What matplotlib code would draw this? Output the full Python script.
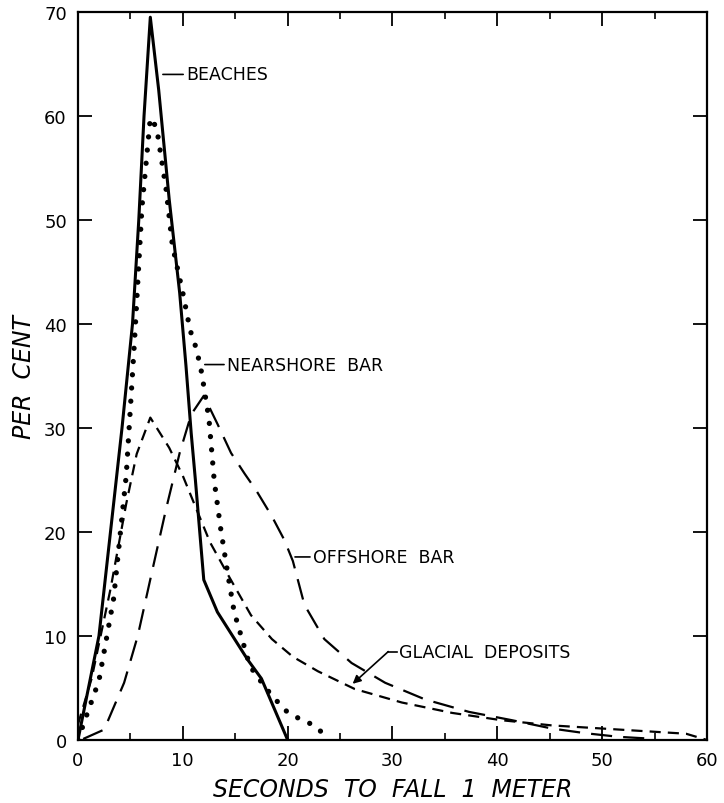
import matplotlib
matplotlib.use("Agg")
import matplotlib.pyplot as plt
from matplotlib.ticker import MultipleLocator

# ---- data ----
beaches_x = [0, 2.0, 3.1, 4.2, 5.2, 5.8, 6.3, 6.9, 7.7, 8.7, 9.7, 10.3, 10.8, 11.2, 12.0, 13.3, 16.2, 17.5, 20.0]
beaches_y = [0, 10, 20, 30, 40, 50, 60, 69.5, 62.5, 52, 43, 36, 29.5, 25, 15.4, 12.3, 7.7, 5.9, 0]

nearshore_x = [0, 0.8, 2.0, 3.4, 4.6, 5.4, 6.1, 6.9, 7.5, 8.4, 9.0, 10.0, 10.7, 11.3, 11.8, 12.5, 13.0,
               13.6, 14.3, 14.9, 16.4, 17.9, 19.7, 20.6, 22.1, 23.2, 24.0]
nearshore_y = [0, 2.3, 5.7, 13.6, 25.4, 38.5, 51.2, 59.8, 58.9, 53, 47.6, 43, 39.4, 37.6, 35.3, 30.8, 24.9,
               20.4, 15.9, 12.3, 7.1, 5.0, 2.9, 2.3, 1.6, 0.8, 0.3]

offshore_x = [0.5, 2.5, 4.4, 5.7, 7.0, 8.4, 9.7, 10.8, 12.0, 13.3, 14.6, 15.9, 17.0, 18.5, 19.7, 20.5,
              21.6, 23.5, 26.1, 29.3, 33.1, 37.3, 41.4, 45.2, 48.4, 51.6, 54.2]
offshore_y = [0.1, 1.0, 5.5, 10.0, 15.9, 22.2, 27.6, 31.3, 33.1, 30.4, 27.6, 25.6, 24.0, 21.5, 19.2, 17.2,
              13.0, 9.7, 7.4, 5.5, 3.9, 2.7, 1.9, 1.1, 0.65, 0.3, 0.15]

glacial_x = [0, 1.3, 3.1, 4.6, 5.6, 6.9, 8.7, 10.0, 11.3, 12.6, 14.3, 16.5, 18.5, 20.5, 22.9, 26.4,
             30.9, 35.7, 40.4, 45.2, 51.6, 58.0, 60.0]
glacial_y = [1.5, 5.9, 14.5, 22.7, 27.5, 31.0, 28.1, 25.4, 22.2, 19.0, 15.9, 12.0, 9.7, 8.0, 6.6, 4.9,
             3.6, 2.6, 1.9, 1.4, 1.0, 0.6, 0.0]

x_ticks = [0, 10, 20, 30, 40, 50, 60]
y_ticks = [0, 10, 20, 30, 40, 50, 60, 70]

# ---- figure ----
fig = plt.figure(figsize=(7.24, 8.04), dpi=100)
ax = fig.add_axes([0.1077, 0.0784, 0.8688, 0.9054])

ax.plot(beaches_x, beaches_y, color="black", lw=2.2, solid_joinstyle="round")
ax.plot(nearshore_x, nearshore_y, color="black", lw=3.8, linestyle=(0, (0.01, 2.5)),
        dash_capstyle="round")
ax.plot(offshore_x, offshore_y, color="black", lw=1.6, linestyle=(0, (9.5, 5.0)))
ax.plot(glacial_x, glacial_y, color="black", lw=1.6, linestyle=(0, (5.0, 3.2)))

ax.set_xlim(0, 60)
ax.set_ylim(0, 70)
ax.set_xticks(x_ticks)
ax.set_yticks(y_ticks)
ax.xaxis.set_minor_locator(MultipleLocator(5))
ax.tick_params(which="major", direction="in", length=10, width=1.3, top=True, right=True,
               labelsize=13, pad=8)
ax.tick_params(which="minor", direction="in", length=5, width=1.2, top=True, right=False, left=False)
ax.tick_params(axis="y", which="minor", left=False, right=False)
for s in ax.spines.values():
    s.set_linewidth(1.6)

ax.set_xlabel("SECONDS  TO  FALL  1  METER", fontsize=17, fontstyle="italic", labelpad=6)
ax.set_ylabel("PER  CENT", fontsize=17, fontstyle="italic", labelpad=6)

lab = dict(fontsize=12.5, va="center", ha="left")
arrow_plain = dict(arrowstyle="-", lw=1.2, color="black", shrinkA=0, shrinkB=0)
ax.annotate("BEACHES", xy=(8.1, 64.0), xytext=(10.3, 64.0), arrowprops=arrow_plain, **lab)
ax.annotate("NEARSHORE  BAR", xy=(12.1, 36.1), xytext=(14.2, 36.1), arrowprops=arrow_plain, **lab)
ax.annotate("OFFSHORE  BAR", xy=(20.7, 17.6), xytext=(22.4, 17.6), arrowprops=arrow_plain, **lab)
ax.text(30.6, 8.5, "GLACIAL  DEPOSITS", **lab)
ax.plot([29.6, 30.4], [8.5, 8.5], color="black", lw=1.2)
ax.annotate("", xy=(26.2, 5.4), xytext=(29.6, 8.5),
            arrowprops=dict(arrowstyle="-|>", lw=1.2, color="black", mutation_scale=12,
                            shrinkA=0, shrinkB=0))

fig.savefig("out.png", dpi=100)
